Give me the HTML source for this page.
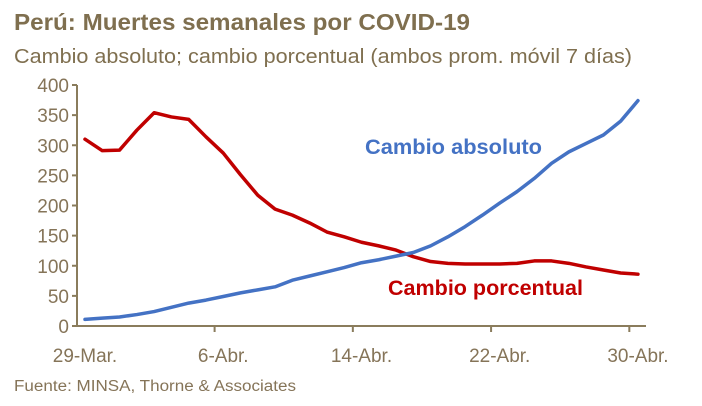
<!DOCTYPE html>
<html><head><meta charset="utf-8"><style>
body{margin:0;background:#fff;}
svg{display:block;font-family:"Liberation Sans",Arial,sans-serif;}
</style></head><body>
<svg id="chart" width="702" height="406">
<text x="14" y="30" font-size="23" font-weight="bold" fill="#7f6f4f" textLength="456" lengthAdjust="spacingAndGlyphs">Perú: Muertes semanales por COVID-19</text>
<text x="14" y="63" font-size="20" fill="#7f6f4f" textLength="618" lengthAdjust="spacingAndGlyphs">Cambio absoluto; cambio porcentual (ambos prom. móvil 7 días)</text>
<text x="14" y="391" font-size="15.5" fill="#857458" textLength="282" lengthAdjust="spacingAndGlyphs">Fuente: MINSA, Thorne &amp; Associates</text>
<g id="axes"></g>
<g id="series"></g>
<text x="365" y="154" font-size="21" font-weight="bold" fill="#4472c4" textLength="177" lengthAdjust="spacingAndGlyphs">Cambio absoluto</text>
<text x="388" y="295" font-size="21" font-weight="bold" fill="#c00000" textLength="195" lengthAdjust="spacingAndGlyphs">Cambio porcentual</text>
</svg>
<script>
const yTicks=[0,50,100,150,200,250,300,350,400];
const xLabels=["29-Mar.","6-Abr.","14-Abr.","22-Abr.","30-Abr."];
const xLabelDays=[0,8,16,24,32];
const absoluto=[11,13,15,19,24,31,38,43,49,55,60,65,76,83,90,97,105,110,116,122,133,148,165,184,204,223,245,270,289,303,317,340,374];
const porcentual=[310,291,292,325,354,347,343,314,287,251,217,194,184,171,156,148,139,133,126,115,107,104,103,103,103,104,108,108,104,98,93,88,86];
const NS="http://www.w3.org/2000/svg";
const x0=85,dx=17.28,yBase=326,py=0.6025;
const X=d=>x0+d*dx, Y=v=>yBase-v*py;
const axes=document.getElementById('axes'),series=document.getElementById('series');
function mk(t,a,p){const e=document.createElementNS(NS,t);for(const k in a)e.setAttribute(k,a[k]);p.appendChild(e);return e;}
const ax='#8a7c5c';
let yl=mk('line',{x1:77,y1:Y(400),x2:77,y2:yBase+1,stroke:ax,'stroke-width':2},axes);


let xl=mk('line',{x1:76,y1:yBase,x2:646,y2:yBase,stroke:ax,'stroke-width':2},axes);


yTicks.forEach(v=>{
 mk('line',{x1:72,y1:Y(v),x2:77,y2:Y(v),stroke:ax,'stroke-width':2},axes);
 const t=mk('text',{x:69,y:Y(v)+7,'font-size':19,fill:'#857458','text-anchor':'end'},axes);
 t.textContent=v;
 
 
});
for(let i=0;i<4;i++){const d=xLabelDays[i]+8-0.5;mk('line',{x1:X(d),y1:yBase,x2:X(d),y2:yBase+6,stroke:ax,'stroke-width':2},axes);}
xLabels.forEach((l,i)=>{
 const t=mk('text',{x:X(xLabelDays[i]),y:362,'font-size':19,fill:'#857458','text-anchor':'middle'},axes);
 t.textContent=l;
 
 
});
function line(arr,col,name){
 const p=mk('polyline',{points:arr.map((v,i)=>X(i)+','+Y(v)).join(' '),fill:'none',stroke:col,'stroke-width':3.5,'stroke-linejoin':'round','stroke-linecap':'round'},series);
 
 
}
line(porcentual,'#c00000','line-cambio-porcentual');
line(absoluto,'#4472c4','line-cambio-absoluto');
</script>
</body></html>
